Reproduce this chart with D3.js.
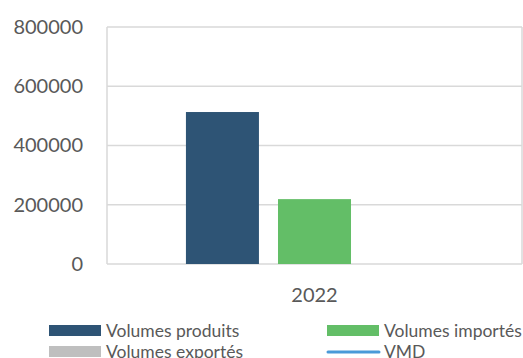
<!DOCTYPE html>
<html>
<head>
<meta charset="utf-8">
<script src="https://cdn.jsdelivr.net/npm/d3@7"></script>
<style>
  html, body { margin: 0; padding: 0; background: #fff; }
  svg text { font-family: Lato, "Open Sans", sans-serif; fill: #595959; }
</style>
</head>
<body>
<svg id="chart" width="523" height="358"></svg>
<script>
// Chart data
const categories = ["2022"];
const seriesNames = ["Volumes produits", "Volumes importés", "Volumes exportés"];
const volumesProduits = [513000];
const volumesImportes = [219000];
const volumesExportes = [0];
const vmd = [null];
const yTicks = [0, 200000, 400000, 600000, 800000];

const colors = {
  "Volumes produits": "#2e5475",
  "Volumes importés": "#63be67",
  "Volumes exportés": "#bfbfbf",
  "VMD": "#4a9ad8"
};

const barSeries = [volumesProduits, volumesImportes, volumesExportes];
const rows = categories.map((c, i) => ({
  category: c,
  values: seriesNames.map((name, s) => ({ name, value: barSeries[s][i] })),
  vmd: vmd[i]
}));

const svg = d3.select("#chart");
const plot = { left: 107, right: 522, top: 27, bottom: 264 };

const y = d3.scaleLinear().domain([0, 800000]).range([plot.bottom, plot.top]);
const x0 = d3.scaleBand().domain(categories).range([plot.left, plot.right])
  .paddingInner(0).paddingOuter(0.307);
const x1 = d3.scaleBand().domain(seriesNames).range([0, x0.bandwidth()])
  .paddingInner(0.207).paddingOuter(0);

// Gridlines
svg.append("g").selectAll("line").data(yTicks).join("line")
  .attr("x1", plot.left).attr("x2", plot.right)
  .attr("y1", d => y(d)).attr("y2", d => y(d))
  .attr("stroke", "#d9d9d9").attr("stroke-width", 1.5);

// Plot area side borders
svg.append("g").selectAll("line").data([plot.left, plot.right]).join("line")
  .attr("x1", d => d).attr("x2", d => d)
  .attr("y1", plot.top).attr("y2", plot.bottom)
  .attr("stroke", "#d9d9d9").attr("stroke-width", 1.5);

// Y axis labels
const yAxis = d3.axisLeft(y).tickValues(yTicks).tickSize(0).tickPadding(24)
  .tickFormat(d3.format("d"));
const gy = svg.append("g").attr("transform", `translate(${plot.left},0)`).call(yAxis);
gy.select(".domain").remove();
gy.selectAll("text").attr("font-size", 20).style("font-family", "Lato, sans-serif")
  .attr("fill", "#595959");

// X axis labels
const xAxis = d3.axisBottom(x0).tickSize(0).tickPadding(24);
const gx = svg.append("g").attr("transform", `translate(0,${plot.bottom})`).call(xAxis);
gx.select(".domain").remove();
gx.selectAll("text").attr("font-size", 20).style("font-family", "Lato, sans-serif")
  .attr("fill", "#595959");

// Bars
const groups = svg.append("g").selectAll("g").data(rows).join("g")
  .attr("transform", d => `translate(${x0(d.category)},0)`);
groups.selectAll("rect").data(d => d.values).join("rect")
  .attr("x", d => x1(d.name))
  .attr("width", x1.bandwidth())
  .attr("y", d => y(d.value))
  .attr("height", d => plot.bottom - y(d.value))
  .attr("fill", d => colors[d.name]);

// VMD line
const line = d3.line()
  .defined(d => d.vmd != null)
  .x(d => x0(d.category) + x0.bandwidth() / 2)
  .y(d => y(d.vmd));
svg.append("path").datum(rows).attr("d", line)
  .attr("fill", "none").attr("stroke", colors.VMD).attr("stroke-width", 3);

// Legend
const legendItems = [
  { name: "Volumes produits", type: "rect", col: 0, row: 0 },
  { name: "Volumes importés", type: "rect", col: 1, row: 0 },
  { name: "Volumes exportés", type: "rect", col: 0, row: 1 },
  { name: "VMD", type: "line", col: 1, row: 1 }
];
const colX = [49, 327];
const rowY = [331, 352];
const legend = svg.append("g").selectAll("g").data(legendItems).join("g")
  .attr("transform", d => `translate(${colX[d.col]},${rowY[d.row]})`);
legend.filter(d => d.type === "rect").append("rect")
  .attr("x", 0).attr("y", -6).attr("width", 52).attr("height", 11)
  .attr("fill", d => colors[d.name]);
legend.filter(d => d.type === "line").append("line")
  .attr("x1", 1).attr("x2", 52).attr("y1", 0).attr("y2", 0)
  .attr("stroke", d => colors[d.name]).attr("stroke-width", 3)
  .attr("stroke-linecap", "round");
legend.append("text")
  .attr("x", 57).attr("y", 0).attr("dy", "0.35em")
  .attr("font-size", 17.5)
  .text(d => d.name);
</script>
</body>
</html>
